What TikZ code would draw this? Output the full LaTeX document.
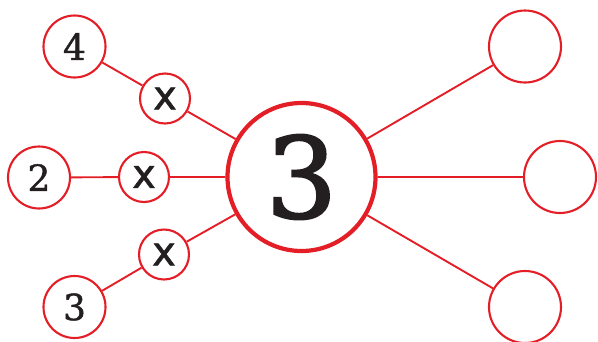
\documentclass[tikz,border=0pt]{standalone}
\usepackage{fontspec}
\setmainfont{DejaVu Serif}
\newfontfamily\numfont[FakeBold=1.2]{DejaVu Serif}
\newfontfamily\bignumfont[FakeBold=2]{DejaVu Serif}
\newfontfamily\xfont[FakeBold=1.5]{DejaVu Sans}
\definecolor{rd}{RGB}{228,30,38}
\definecolor{ink}{RGB}{35,31,32}
\begin{document}
\begin{tikzpicture}[x=1pt,y=-1pt,
  circ/.style={circle,draw=rd,line width=2.1pt,inner sep=0pt,fill=white,text=ink},
  num/.style={circ,minimum size=62pt,font=\numfont\fontsize{36}{36}\selectfont},
  xc/.style={circ,minimum size=50pt,font=\xfont\fontsize{40}{40}\selectfont},
  empt/.style={circ,minimum size=72pt},
  big/.style={circ,line width=4.2pt,minimum size=148pt,font=\bignumfont\fontsize{112}{112}\selectfont},
  link/.style={draw=rd,line width=1.9pt}]
\useasboundingbox (0,0) rectangle (598,341);
\node[big] (c) at (301.5,177) {3};
\node[num] (n4) at (74.5,46.5) {4};
\node[num] (n2) at (39,177.5) {2};
\node[num] (n3) at (74.5,307) {3};
\node[xc] (x1) at (165,98.5) {x};
\node[xc] (x2) at (144,177) {x};
\node[xc] (x3) at (164,254.5) {x};
\node[empt] (r1) at (525,46.5) {};
\node[empt] (r2) at (560,177) {};
\node[empt] (r3) at (525,307) {};
\path[link] (n4) -- (x1) (x1) -- (c)
  (n2) -- (x2) (x2) -- (c)
  (n3) -- (x3) (x3) -- (c)
  (c) -- (r1) (c) -- (r2) (c) -- (r3);
\end{tikzpicture}
\end{document}
